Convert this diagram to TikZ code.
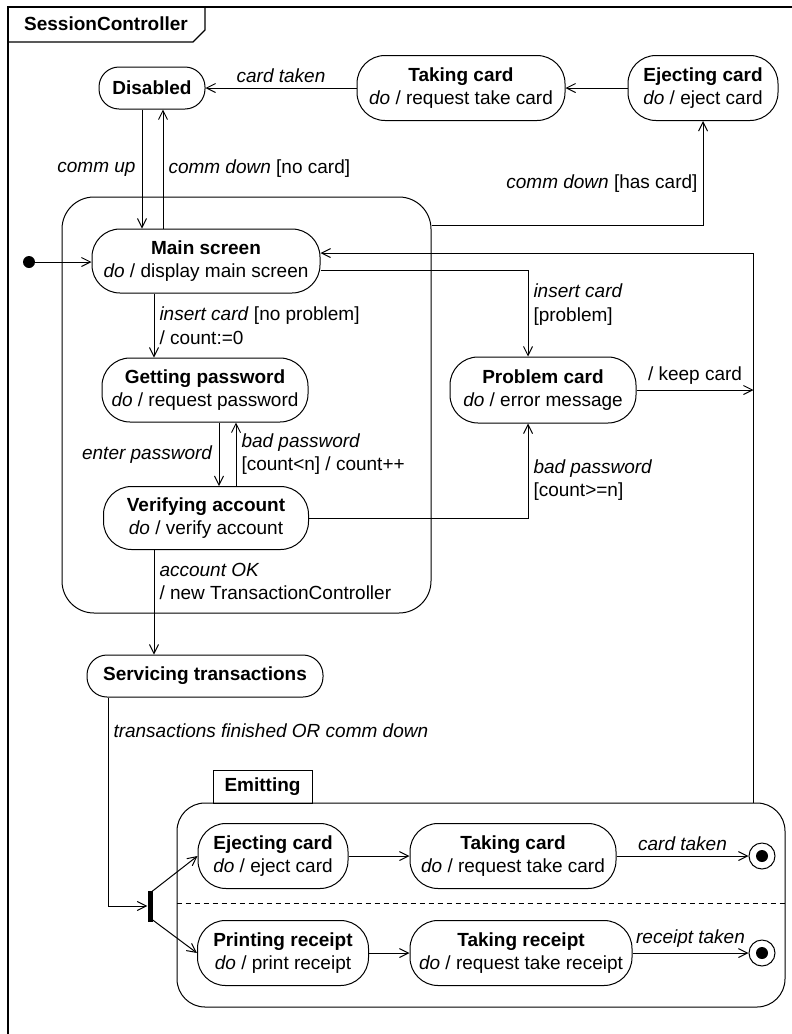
\documentclass[tikz,border=0pt]{standalone}
\usepackage{fontspec}
\setmainfont{Liberation Sans}
\usetikzlibrary{arrows.meta}
\tikzset{
  state/.style={draw, line width=1pt, rounded corners=28pt, align=center, minimum height=65pt, inner sep=3pt},
  smallstate/.style={state, rounded corners=20pt, minimum height=42pt},
  trans/.style={line width=1pt, -{Straight Barb[length=9pt,width=9pt]}},
  lbl/.style={inner sep=2pt, align=left},
  startdot/.style={circle, fill, inner sep=0pt, minimum size=12pt},
  final/.style={circle, draw, line width=1pt, minimum size=26pt, inner sep=0pt,
    path picture={\fill (path picture bounding box.center) circle (6pt);}},
}
\begin{document}
\begin{tikzpicture}[x=1pt, y=-1pt, font=\fontsize{19}{23.5}\selectfont]
  \useasboundingbox (0,0) rectangle (792,1034);
  % 1. Outer frame with its title tab
  \draw[line width=1.2pt] (8,1034) -- (8,7) -- (792,7);
  \draw[line width=1.2pt] (8,42) -- (193,42) -- (205,30) -- (205,7);
  \node (frametitle) at (106,24) {\textbf{SessionController}};

  % 2. States at the top
  \node[smallstate, minimum width=106pt] (disabled) at (152,88) {\textbf{Disabled}};
  \node[state, minimum width=208pt] (takecard) at (461,88) {\textbf{Taking card}\\\textit{do} / request take card};
  \node[state, minimum width=150pt] (ejectcard) at (703,88) {\textbf{Ejecting card}\\\textit{do} / eject card};

  % 3. Composite state with its substates
  \node[draw, line width=1pt, rounded corners=32pt, minimum width=369pt, minimum height=416pt] (active) at (246.5,405) {};
  \node[state, minimum width=228pt, minimum height=64pt] (mainscreen) at (206,261) {\textbf{Main screen}\\\textit{do} / display main screen};
  \node[state, minimum width=206pt, minimum height=64pt] (getpass) at (205,390) {\textbf{Getting password}\\\textit{do} / request password};
  \node[state, minimum width=205pt, minimum height=63pt] (verify) at (206,518) {\textbf{Verifying account}\\\textit{do} / verify account};
  \node[state, minimum width=186pt, minimum height=66pt] (probcard) at (543,390) {\textbf{Problem card}\\\textit{do} / error message};
  \node[smallstate, minimum width=236pt] (servicing) at (205,676) {\textbf{Servicing transactions}};
  \node[startdot] (init) at (29,262) {};

  % 4. Emitting region (two parallel parts)
  \node[draw, line width=1pt, rounded corners=28pt, minimum width=608pt, minimum height=204pt] (emitting) at (481,905) {};
  \node[draw, line width=1pt, minimum width=99pt, minimum height=33pt] (emittab) at (262.5,786.5) {\textbf{Emitting}};
  \draw[line width=1pt, dash pattern=on 5pt off 4pt] ([yshift=2pt]emitting.west) -- ([yshift=2pt]emitting.east);
  \coordinate (rail) at ([xshift=-32pt]emitting.north east);
  \node[state, minimum width=150pt] (ejectB) at (273,856) {\textbf{Ejecting card}\\\textit{do} / eject card};
  \node[state, minimum width=206pt] (takeB) at (513,856) {\textbf{Taking card}\\\textit{do} / request take card};
  \node[state, minimum width=171pt] (printB) at (283,953) {\textbf{Printing receipt}\\\textit{do} / print receipt};
  \node[state, minimum width=222pt] (takeRec) at (521,953) {\textbf{Taking receipt}\\\textit{do} / request take receipt};
  \node[final] (endA) at (762,856) {};
  \node[final] (endB) at (762,953) {};
  \node[fill, inner sep=0pt, minimum width=5pt, minimum height=31pt] (fork) at (150,906) {};

  % 5. Transitions
  \draw[trans] (ejectcard) -- (takecard);
  \draw[trans] (takecard) -- (disabled) node[midway, above=3pt, lbl] {\textit{card taken}};
  \draw[trans] ([xshift=-10pt]disabled.south) -- ([xshift=-10pt]disabled.south |- mainscreen.north)
    node[midway, left=4pt, lbl] {\textit{comm up}};
  \draw[trans] ([xshift=11pt]disabled.south |- mainscreen.north) -- ([xshift=11pt]disabled.south)
    node[midway, right=3pt, lbl] {\textit{comm down} [no card]};
  \draw[trans] ([yshift=-29pt]active.north east) -| (ejectcard.south)
    node[pos=0.7, left=3pt, lbl] {\textit{comm down} [has card]};
  \draw[trans] (init) -- (init -| mainscreen.west);
  \draw[trans] (rail) |- ([yshift=8pt]mainscreen.east);
  \draw[trans] ([yshift=-9pt]mainscreen.east) -| ([xshift=-15pt]probcard.north)
    node[pos=0.7, right=3pt, lbl] {\textit{insert card}\\{}[problem]};
  \draw[trans] ([xshift=-52pt]mainscreen.south) -- ([xshift=-52pt]mainscreen.south |- getpass.north)
    node[midway, right=3pt, lbl] {\textit{insert card} [no problem]\\/ count:=0};
  \draw[trans] (probcard.east) -- (probcard.east -| rail) node[midway, above=3pt, lbl] {/ keep card};
  \draw[trans] ([xshift=14pt]getpass.south) -- ([xshift=14pt]getpass.south |- verify.north)
    node[midway, left=4pt, lbl] {\textit{enter password}};
  \draw[trans] ([xshift=30pt]verify.north) -- ([xshift=30pt]verify.north |- getpass.south)
    node[midway, right=3pt, lbl] {\textit{bad password}\\{}[count<n] / count++};
  \draw[trans] (verify.east) -| ([xshift=-15pt]probcard.south)
    node[pos=0.7, right=3pt, lbl] {\textit{bad password}\\{}[count>=n]};
  \draw[trans] ([xshift=-52pt]verify.south) -- ([xshift=-52pt]verify.south |- servicing.north)
    node[pos=0.3, right=3pt, lbl] {\textit{account OK}\\/ new TransactionController};
  \draw[trans] ([xshift=-97pt]servicing.south) |- (fork.west)
    node[pos=0.08, right=3pt, lbl] {\textit{transactions finished OR comm down}};
  \draw[trans] ([yshift=13pt]fork.center) -- (ejectB.west);
  \draw[trans] ([yshift=-12pt]fork.center) -- (printB.west);
  \draw[trans] (ejectB) -- (takeB);
  \draw[trans] (takeB) -- (endA) node[midway, above=3pt, lbl] {\textit{card taken}};
  \draw[trans] (printB) -- (takeRec);
  \draw[trans] (takeRec) -- (endB) node[midway, above=3pt, lbl] {\textit{receipt taken}};
\end{tikzpicture}
\end{document}
